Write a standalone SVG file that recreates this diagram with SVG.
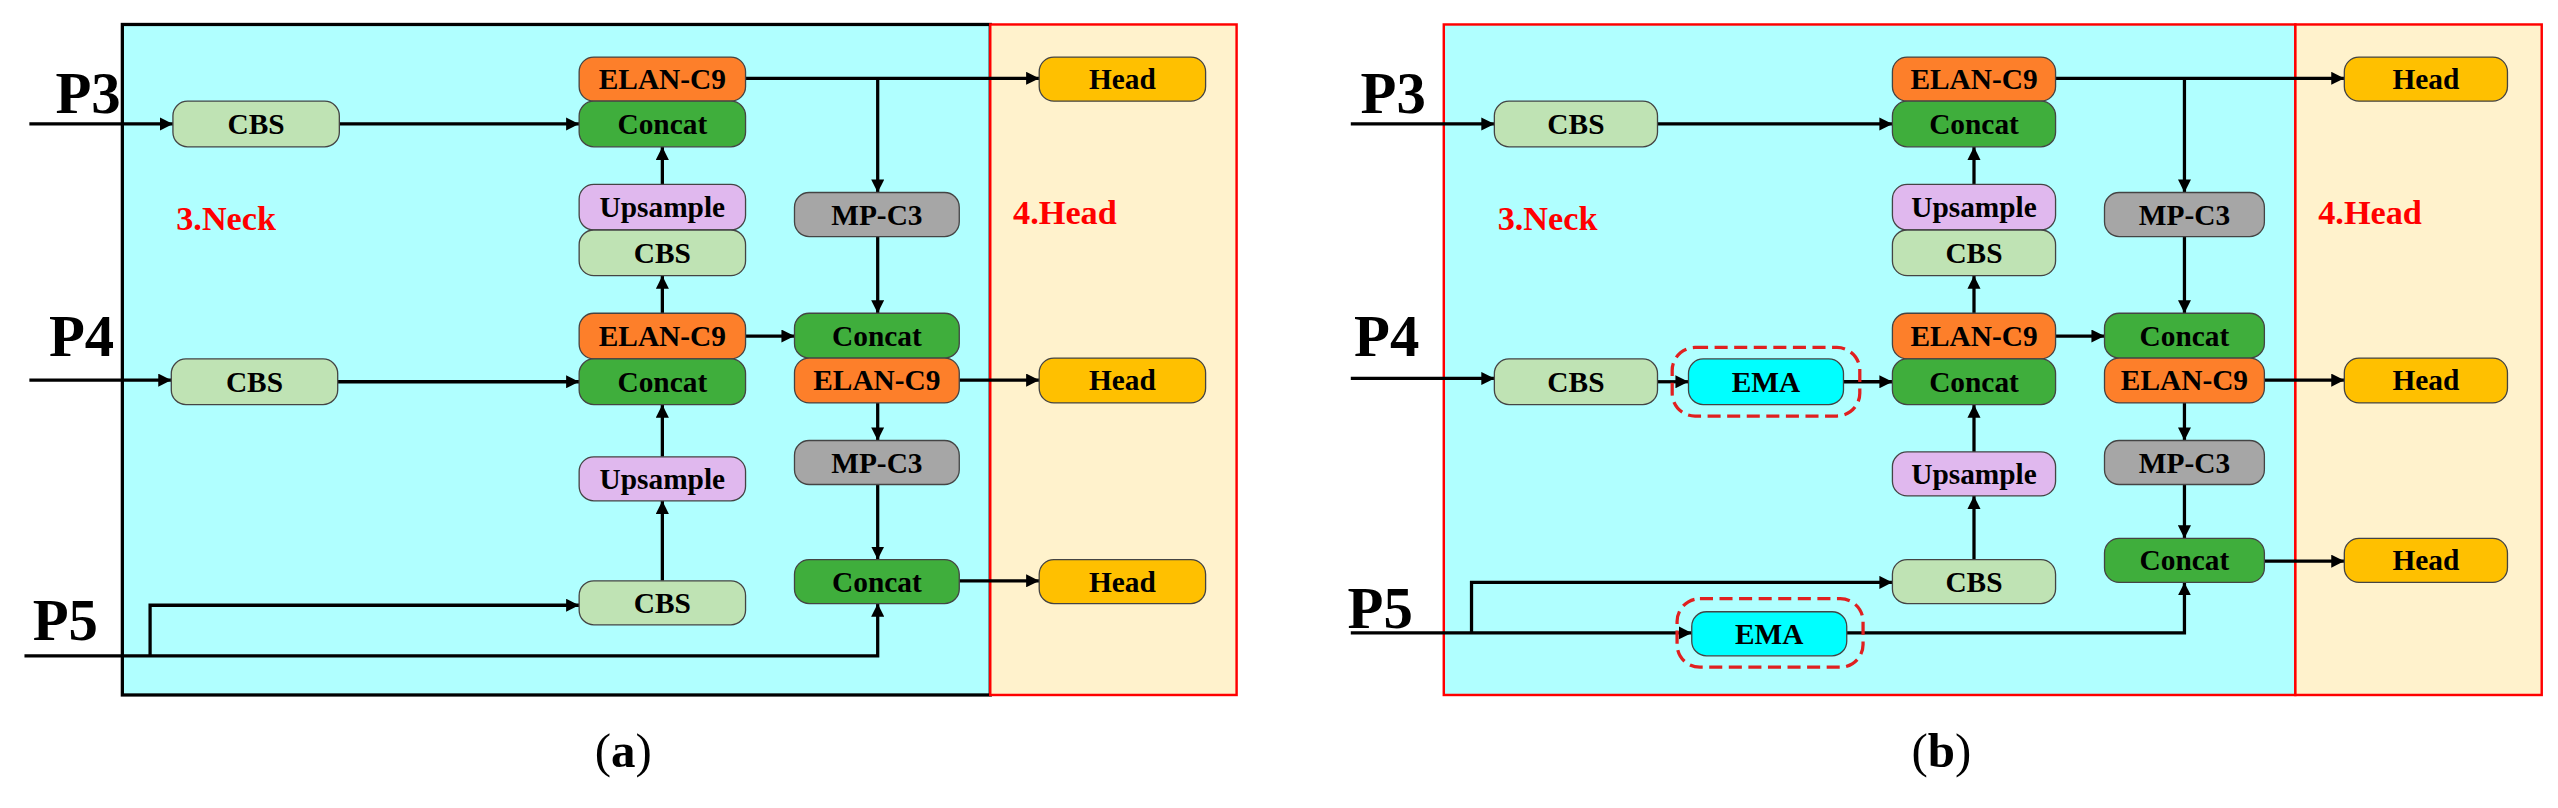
<svg xmlns="http://www.w3.org/2000/svg" width="2558" height="808" viewBox="0 0 2558 808">
<style>
.b{stroke:#444;stroke-width:0.8}
.cbs{fill:#bfe3b4}.cc{fill:#3fae3c}.el{fill:#fd7f2a}.up{fill:#e0b8ee}.mp{fill:#a6a6a6}.hd{fill:#ffc000}.ema{fill:#00ffff}
text{font-family:"Liberation Serif","Times New Roman",serif;font-weight:bold}
.t{font-size:18px;text-anchor:middle;dominant-baseline:central}
.p{font-size:36px}
.r{font-size:21px;fill:#ff0000}
.cap{font-size:30px;font-weight:normal;text-anchor:middle}
.ln{stroke:#000;stroke-width:2;fill:none}
.ar{marker-end:url(#a)}
.dash{fill:none;stroke:#e02020;stroke-width:2;stroke-dasharray:8,4}
</style>
<defs>
<marker id="a" markerWidth="8" markerHeight="8" refX="8" refY="4" orient="auto" markerUnits="userSpaceOnUse"><path d="M0,0L8,4L0,8z" fill="#000"/></marker>
</defs>
<rect width="2558" height="808" fill="#fff"/>
<g transform="scale(1.6314)">
<g id="panelA-bg">
<rect x="75" y="15" width="532" height="411" fill="#b0ffff" stroke="#000" stroke-width="2"/>
<rect x="607" y="15" width="151" height="411" fill="#fff2cc" stroke="#ff0000" stroke-width="1.5"/>
<text x="108" y="141" class="r">3.Neck</text>
<text x="621" y="137" class="r">4.Head</text>
<text x="34" y="69" class="p">P3</text>
<text x="30" y="218" class="p">P4</text>
<text x="20" y="392" class="p">P5</text>
<text x="382" y="470" class="cap">(<tspan font-weight="bold">a</tspan>)</text>
</g>
<g id="panelB-bg">
<rect x="885" y="15" width="522" height="411" fill="#b0ffff" stroke="#ff0000" stroke-width="1.5"/>
<rect x="1407" y="15" width="151" height="411" fill="#fff2cc" stroke="#ff0000" stroke-width="1.5"/>
<text x="918" y="141" class="r">3.Neck</text>
<text x="1421" y="137" class="r">4.Head</text>
<text x="834" y="69" class="p">P3</text>
<text x="830" y="218" class="p">P4</text>
<text x="826" y="385" class="p">P5</text>
<text x="1190" y="470" class="cap">(<tspan font-weight="bold">b</tspan>)</text>
</g>
<g id="connectors">
<!-- a -->
<path class="ln ar" d="M18,76H106"/>
<path class="ln ar" d="M208,76H355"/>
<path class="ln ar" d="M18,233H105"/>
<path class="ln ar" d="M207,234H355"/>
<path class="ln ar" d="M406,113V90"/>
<path class="ln ar" d="M406,192V169"/>
<path class="ln ar" d="M406,280V248"/>
<path class="ln ar" d="M406,356V307"/>
<path class="ln ar" d="M457,48H637"/>
<path class="ln ar" d="M538,48V118"/>
<path class="ln ar" d="M538,145V192"/>
<path class="ln ar" d="M457,206H487"/>
<path class="ln ar" d="M588,233H637"/>
<path class="ln ar" d="M538,247V270"/>
<path class="ln ar" d="M538,297V343"/>
<path class="ln ar" d="M588,356H637"/>
<path class="ln ar" d="M15,402H538V370"/>
<path class="ln ar" d="M92,402V371H355"/>
<!-- b -->
<path class="ln ar" d="M828,76H916"/>
<path class="ln ar" d="M1016,76H1160"/>
<path class="ln ar" d="M828,232H916"/>
<path class="ln ar" d="M1016,234H1035"/>
<path class="ln ar" d="M1130,234H1160"/>
<path class="ln ar" d="M1210,113V90"/>
<path class="ln ar" d="M1210,192V169"/>
<path class="ln ar" d="M1210,277V248"/>
<path class="ln ar" d="M1210,343V304"/>
<path class="ln ar" d="M1260,48H1437"/>
<path class="ln ar" d="M1339,48V118"/>
<path class="ln ar" d="M1339,145V192"/>
<path class="ln ar" d="M1260,206H1290"/>
<path class="ln ar" d="M1388,233H1437"/>
<path class="ln ar" d="M1339,247V270"/>
<path class="ln ar" d="M1339,297V330"/>
<path class="ln ar" d="M1388,344H1437"/>
<path class="ln ar" d="M828,388H1037"/>
<path class="ln ar" d="M1132,388H1339V357"/>
<path class="ln ar" d="M902,388V357H1160"/>
</g>
<g id="a-cbs3"><rect class="b cbs" x="106" y="62" width="102" height="28" rx="9"/><text class="t" x="157" y="76">CBS</text></g>
<g id="a-elan1"><rect class="b el" x="355" y="35" width="102" height="27" rx="9"/><text class="t" x="406" y="48.5">ELAN-C9</text></g>
<g id="a-concat1"><rect class="b cc" x="355" y="62" width="102" height="28" rx="9"/><text class="t" x="406" y="76">Concat</text></g>
<g id="a-up1"><rect class="b up" x="355" y="113" width="102" height="28" rx="9"/><text class="t" x="406" y="127">Upsample</text></g>
<g id="a-cbs2"><rect class="b cbs" x="355" y="141" width="102" height="28" rx="9"/><text class="t" x="406" y="155">CBS</text></g>
<g id="a-elan2"><rect class="b el" x="355" y="192" width="102" height="28" rx="9"/><text class="t" x="406" y="206">ELAN-C9</text></g>
<g id="a-concat2"><rect class="b cc" x="355" y="220" width="102" height="28" rx="9"/><text class="t" x="406" y="234">Concat</text></g>
<g id="a-cbs4"><rect class="b cbs" x="105" y="220" width="102" height="28" rx="9"/><text class="t" x="156" y="234">CBS</text></g>
<g id="a-up2"><rect class="b up" x="355" y="280" width="102" height="27" rx="9"/><text class="t" x="406" y="293.5">Upsample</text></g>
<g id="a-cbs5"><rect class="b cbs" x="355" y="356" width="102" height="27" rx="9"/><text class="t" x="406" y="369.5">CBS</text></g>
<g id="a-mp1"><rect class="b mp" x="487" y="118" width="101" height="27" rx="9"/><text class="t" x="537.5" y="131.5">MP-C3</text></g>
<g id="a-concat3"><rect class="b cc" x="487" y="192" width="101" height="27.5" rx="9"/><text class="t" x="537.5" y="206">Concat</text></g>
<g id="a-elan3"><rect class="b el" x="487" y="219.5" width="101" height="27.5" rx="9"/><text class="t" x="537.5" y="233">ELAN-C9</text></g>
<g id="a-mp2"><rect class="b mp" x="487" y="270" width="101" height="27" rx="9"/><text class="t" x="537.5" y="283.5">MP-C3</text></g>
<g id="a-concat4"><rect class="b cc" x="487" y="343" width="101" height="27" rx="9"/><text class="t" x="537.5" y="356.5">Concat</text></g>
<g id="a-head1"><rect class="b hd" x="637" y="35" width="102" height="27" rx="9"/><text class="t" x="688" y="48.5">Head</text></g>
<g id="a-head2"><rect class="b hd" x="637" y="219.5" width="102" height="27.5" rx="9"/><text class="t" x="688" y="233">Head</text></g>
<g id="a-head3"><rect class="b hd" x="637" y="343" width="102" height="27" rx="9"/><text class="t" x="688" y="356.5">Head</text></g>

<g id="b-cbs3"><rect class="b cbs" x="916" y="62" width="100" height="28" rx="9"/><text class="t" x="966" y="76">CBS</text></g>
<g id="b-elan1"><rect class="b el" x="1160" y="35" width="100" height="27" rx="9"/><text class="t" x="1210" y="48.5">ELAN-C9</text></g>
<g id="b-concat1"><rect class="b cc" x="1160" y="62" width="100" height="28" rx="9"/><text class="t" x="1210" y="76">Concat</text></g>
<g id="b-up1"><rect class="b up" x="1160" y="113" width="100" height="28" rx="9"/><text class="t" x="1210" y="127">Upsample</text></g>
<g id="b-cbs2"><rect class="b cbs" x="1160" y="141" width="100" height="28" rx="9"/><text class="t" x="1210" y="155">CBS</text></g>
<g id="b-elan2"><rect class="b el" x="1160" y="192" width="100" height="28" rx="9"/><text class="t" x="1210" y="206">ELAN-C9</text></g>
<g id="b-concat2"><rect class="b cc" x="1160" y="220" width="100" height="28" rx="9"/><text class="t" x="1210" y="234">Concat</text></g>
<g id="b-cbs4"><rect class="b cbs" x="916" y="220" width="100" height="28" rx="9"/><text class="t" x="966" y="234">CBS</text></g>
<g id="b-ema1"><rect class="dash" x="1025" y="213" width="115" height="42" rx="14"/><rect class="b ema" x="1035" y="220" width="95" height="28" rx="9"/><text class="t" x="1082.5" y="234">EMA</text></g>
<g id="b-up2"><rect class="b up" x="1160" y="277" width="100" height="27" rx="9"/><text class="t" x="1210" y="290.5">Upsample</text></g>
<g id="b-cbs5"><rect class="b cbs" x="1160" y="343" width="100" height="27" rx="9"/><text class="t" x="1210" y="356.5">CBS</text></g>
<g id="b-ema2"><rect class="dash" x="1028" y="367" width="114" height="42" rx="14"/><rect class="b ema" x="1037" y="375" width="95" height="27" rx="9"/><text class="t" x="1084.5" y="388.5">EMA</text></g>
<g id="b-mp1"><rect class="b mp" x="1290" y="118" width="98" height="27" rx="9"/><text class="t" x="1339" y="131.5">MP-C3</text></g>
<g id="b-concat3"><rect class="b cc" x="1290" y="192" width="98" height="27.5" rx="9"/><text class="t" x="1339" y="206">Concat</text></g>
<g id="b-elan3"><rect class="b el" x="1290" y="219.5" width="98" height="27.5" rx="9"/><text class="t" x="1339" y="233">ELAN-C9</text></g>
<g id="b-mp2"><rect class="b mp" x="1290" y="270" width="98" height="27" rx="9"/><text class="t" x="1339" y="283.5">MP-C3</text></g>
<g id="b-concat4"><rect class="b cc" x="1290" y="330" width="98" height="27" rx="9"/><text class="t" x="1339" y="343.5">Concat</text></g>
<g id="b-head1"><rect class="b hd" x="1437" y="35" width="100" height="27" rx="9"/><text class="t" x="1487" y="48.5">Head</text></g>
<g id="b-head2"><rect class="b hd" x="1437" y="219.5" width="100" height="27.5" rx="9"/><text class="t" x="1487" y="233">Head</text></g>
<g id="b-head3"><rect class="b hd" x="1437" y="330" width="100" height="27" rx="9"/><text class="t" x="1487" y="343.5">Head</text></g>
</g>
</svg>
